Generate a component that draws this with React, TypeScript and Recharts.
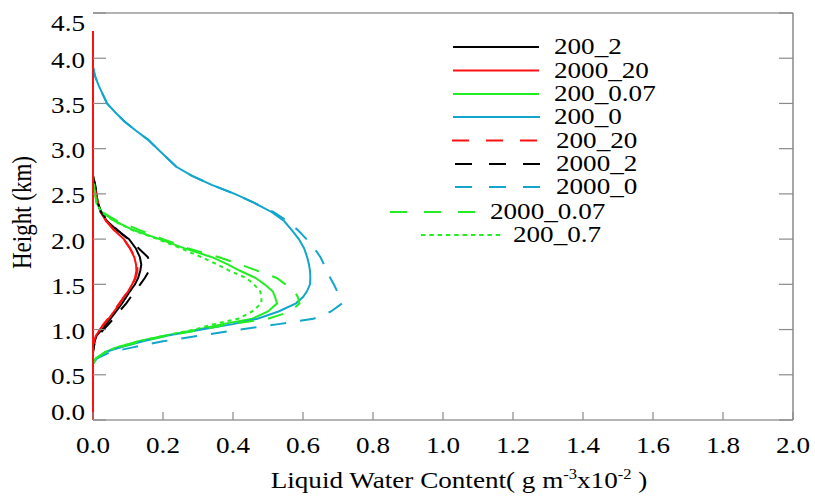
import { LineChart, Line, XAxis, YAxis, Legend } from "recharts"

const SERIF = "'Liberation Serif', 'Times New Roman', serif"
const STRETCH = 1.18

// model levels (km)
const heights = [
  0, 0.5, 0.62, 0.68, 0.75, 0.8, 0.87, 0.93, 1.0, 1.06, 1.12, 1.2, 1.29, 1.36, 1.42, 1.5, 1.57, 1.65, 1.72, 1.8, 1.9,
  2.0, 2.1, 2.2, 2.3, 2.4, 2.5, 2.6, 2.7, 2.8, 2.9, 3.0, 3.1, 3.2, 3.3, 3.4, 3.5, 3.6, 3.7, 3.8, 3.9, 4.0, 4.3,
]

// liquid water content (g m-3 x10-2), one value per level
const lwc200_2 = [
  0, 0, 0, 0, 0, 0.002, 0.005, 0.01, 0.025, 0.038, 0.05, 0.066, 0.083, 0.095, 0.105, 0.12, 0.129, 0.135, 0.138, 0.134,
  0.122, 0.103, 0.068, 0.04, 0.022, 0.014, 0.01, 0.006, 0, 0, 0, 0, 0, 0, 0, 0, 0, 0, 0, 0, 0, 0, 0,
]
const lwc2000_20 = [
  0, 0, 0, 0, 0, 0, 0.003, 0.008, 0.02, 0.032, 0.045, 0.06, 0.077, 0.088, 0.1, 0.112, 0.12, 0.124, 0.123, 0.118,
  0.105, 0.088, 0.06, 0.037, 0.022, 0.014, 0.008, 0.004, 0, 0, 0, 0, 0, 0, 0, 0, 0, 0, 0, 0, 0, 0, 0,
]
const lwc200_007 = [
  0, 0, 0, 0.008, 0.035, 0.065, 0.13, 0.2, 0.3, 0.37, 0.455, 0.5, 0.526, 0.52, 0.514, 0.49, 0.465, 0.42, 0.385, 0.34,
  0.26, 0.19, 0.115, 0.062, 0.025, 0.01, 0.006, 0.003, 0, 0, 0, 0, 0, 0, 0, 0, 0, 0, 0, 0, 0, 0, 0,
]
const lwc200_0 = [
  0, 0, 0, 0.01, 0.035, 0.077, 0.143, 0.21, 0.31, 0.4, 0.47, 0.53, 0.58, 0.6, 0.611, 0.62, 0.621, 0.62, 0.617, 0.612,
  0.603, 0.588, 0.568, 0.546, 0.51, 0.461, 0.405, 0.339, 0.283, 0.238, 0.211, 0.184, 0.157, 0.122, 0.09, 0.064, 0.04,
  0.028, 0.016, 0.006, 0, 0, 0,
]
const lwc200_20 = [
  0, 0, 0, 0, 0, 0, 0.003, 0.008, 0.02, 0.03, 0.043, 0.058, 0.075, 0.088, 0.1, 0.113, 0.122, 0.127, 0.126, 0.12,
  0.106, 0.088, 0.06, 0.038, 0.022, 0.014, 0.008, 0.004, 0, 0, 0, 0, 0, 0, 0, 0, 0, 0, 0, 0, 0, 0, 0,
]
const lwc2000_2 = [
  0, 0, 0, 0, 0, 0.002, 0.006, 0.015, 0.03, 0.045, 0.058, 0.075, 0.095, 0.108, 0.12, 0.135, 0.148, 0.16, 0.162, 0.157,
  0.13, 0.1, 0.07, 0.042, 0.023, 0.014, 0.01, 0.006, 0, 0, 0, 0, 0, 0, 0, 0, 0, 0, 0, 0, 0, 0, 0,
]
const lwc2000_0 = [
  0, 0, 0, 0.01, 0.05, 0.11, 0.2, 0.3, 0.42, 0.53, 0.63, 0.68, 0.712, 0.706, 0.698, 0.688, 0.678, 0.668, 0.66, 0.65,
  0.632, 0.61, 0.585, 0.555, 0.515, 0.461, 0.405, 0.339, 0.283, 0.238, 0.211, 0.184, 0.157, 0.122, 0.09, 0.064, 0.04,
  0.028, 0.016, 0.006, 0, 0, 0,
]
const lwc2000_007 = [
  0, 0, 0, 0.008, 0.035, 0.07, 0.14, 0.21, 0.31, 0.39, 0.5, 0.565, 0.59, 0.585, 0.576, 0.55, 0.525, 0.47, 0.42, 0.36,
  0.27, 0.2, 0.133, 0.07, 0.025, 0.01, 0.006, 0.003, 0, 0, 0, 0, 0, 0, 0, 0, 0, 0, 0, 0, 0, 0, 0,
]
const lwc200_07 = [
  0, 0, 0, 0.008, 0.035, 0.065, 0.13, 0.2, 0.29, 0.345, 0.415, 0.455, 0.481, 0.481, 0.478, 0.46, 0.438, 0.39, 0.355,
  0.31, 0.25, 0.185, 0.112, 0.06, 0.024, 0.01, 0.006, 0.003, 0, 0, 0, 0, 0, 0, 0, 0, 0, 0, 0, 0, 0, 0, 0,
]

// the solid red trace along the left edge
const surfaceH = [0, 4.3]
const surfaceV = [0, 0]

const xTicks = [0, 0.2, 0.4, 0.6, 0.8, 1.0, 1.2, 1.4, 1.6, 1.8, 2.0]
const yTicks = [0, 0.5, 1.0, 1.5, 2.0, 2.5, 3.0, 3.5, 4.0, 4.5]

const BLACK = "#000000"
const RED = "#ff1010"
const GREEN = "#22ee22"
const BLUE = "#12a6cc"
const DASH = "16 14"
const DOT = "4 4"

const series = [
  { key: "200_2", values: lwc200_2, color: BLACK, dash: undefined, legendDash: undefined },
  { key: "2000_20", values: lwc2000_20, color: RED, dash: undefined, legendDash: undefined },
  { key: "200_0.07", values: lwc200_007, color: GREEN, dash: undefined, legendDash: undefined },
  { key: "200_0", values: lwc200_0, color: BLUE, dash: undefined, legendDash: undefined },
  { key: "200_20", values: lwc200_20, color: RED, dash: DASH, legendDash: "17 17" },
  { key: "2000_2", values: lwc2000_2, color: BLACK, dash: DASH, legendDash: "17 17" },
  { key: "2000_0", values: lwc2000_0, color: BLUE, dash: DASH, legendDash: "17 17" },
  { key: "2000_0.07", values: lwc2000_007, color: GREEN, dash: DASH, legendDash: "17 17" },
  { key: "200_0.7", values: lwc200_07, color: GREEN, dash: DOT, legendDash: "4.5 3.8" },
]

// where each legend row sits inside the plot
const legendLayout = [
  { y: 47, x1: 453, x2: 539, tx: 554 },
  { y: 70.5, x1: 453, x2: 539, tx: 554 },
  { y: 94, x1: 453, x2: 539, tx: 554 },
  { y: 117, x1: 453, x2: 540, tx: 554 },
  { y: 140.5, x1: 452, x2: 538, tx: 556 },
  { y: 164, x1: 455, x2: 542, tx: 556 },
  { y: 187, x1: 455, x2: 542, tx: 556 },
  { y: 212, x1: 390, x2: 477, tx: 490 },
  { y: 235, x1: 421, x2: 504, tx: 513 },
]

const rows = heights.map((h, i) => {
  const row: Record<string, number> = { h }
  series.forEach((s) => {
    row[s.key] = s.values[i]
  })
  return row
})
const surfaceRows = surfaceH.map((h, i) => ({ h, v: surfaceV[i] }))

const AXIS = "#8a8a8a"
const textStyle = { fontFamily: SERIF }

function Stretched({ x, y, anchor, size = 23, children }: any) {
  return (
    <g transform={`translate(${x},${y}) scale(${STRETCH},1)`}>
      <text textAnchor={anchor} style={textStyle} fontSize={size} fill="#000">
        {children}
      </text>
    </g>
  )
}

function BottomTick({ x, y, payload }: any) {
  return (
    <g>
      <line x1={x} y1={y} x2={x} y2={y - 8} stroke={AXIS} strokeWidth={1.2} />
      <Stretched x={x} y={y + 33} anchor="middle">
        {payload.value.toFixed(1)}
      </Stretched>
    </g>
  )
}

function TopTick({ x, y }: any) {
  return <line x1={x} y1={y} x2={x} y2={y + 8} stroke={AXIS} strokeWidth={1.2} />
}

function LeftTick({ x, y, payload }: any) {
  // end labels are pulled inside the axis range
  const shift = payload.value === 0 ? -8 : payload.value === 4.5 ? 9.5 : 1.5
  return (
    <g>
      <line x1={x} y1={y} x2={x + 13} y2={y} stroke={AXIS} strokeWidth={1.2} />
      <Stretched x={x - 8} y={y + shift + 8} anchor="end">
        {payload.value.toFixed(1)}
      </Stretched>
    </g>
  )
}

function RightTick({ x, y }: any) {
  return <line x1={x} y1={y} x2={x - 14} y2={y} stroke={AXIS} strokeWidth={1.2} />
}

function XTitle({ viewBox }: any) {
  const cx = viewBox.x + viewBox.width / 2 + 16
  const cy = viewBox.y + 68
  return (
    <g transform={`translate(${cx},${cy}) scale(${STRETCH},1)`}>
      <text textAnchor="middle" style={textStyle} fontSize={23} fill="#000">
        Liquid Water Content( g m
        <tspan dy={-9} fontSize={14}>
          -3
        </tspan>
        <tspan dy={9}>x10</tspan>
        <tspan dy={-9} fontSize={14}>
          -2
        </tspan>
        <tspan dy={9}> )</tspan>
      </text>
    </g>
  )
}

function YTitle({ viewBox }: any) {
  const cx = viewBox.x - 71
  const cy = viewBox.y + viewBox.height / 2 - 4
  return (
    <g transform={`translate(${cx},${cy}) scale(${STRETCH},1) rotate(-90)`}>
      <text textAnchor="middle" dy="0.35em" style={textStyle} fontSize={23} fill="#000">
        Height (km)
      </text>
    </g>
  )
}

function LegendBox() {
  return (
    <svg width={815} height={260}>
      {series.map((s, i) => {
        const L = legendLayout[i]
        return (
          <g key={s.key}>
            <line x1={L.x1} x2={L.x2} y1={L.y} y2={L.y} stroke={s.color} strokeWidth={2} strokeDasharray={s.legendDash} />
            <Stretched x={L.tx} y={L.y + 7} anchor="start">
              {s.key}
            </Stretched>
          </g>
        )
      })}
    </svg>
  )
}

export default function App() {
  return (
    <div style={{ position: "absolute", left: 0, top: 0, background: "#fff" }}>
      <LineChart
        layout="vertical"
        width={815}
        height={502}
        data={rows}
        margin={{ top: 12, right: 21, bottom: 81, left: 92 }}
      >
        <XAxis
          type="number"
          domain={[0, 2]}
          ticks={xTicks}
          interval={0}
          height={1}
          tickSize={0}
          tickMargin={0}
          tickLine={false}
          tick={(p: any) => <BottomTick {...p} />}
          axisLine={{ stroke: "#b4b4b4", strokeWidth: 2 }}
          label={{ content: (p: any) => <XTitle {...p} /> }}
        />
        <XAxis
          xAxisId="top"
          orientation="top"
          type="number"
          domain={[0, 2]}
          ticks={xTicks}
          interval={0}
          height={1}
          tickSize={0}
          tickMargin={0}
          tickLine={false}
          tick={(p: any) => <TopTick {...p} />}
          axisLine={{ stroke: "#b4b4b4", strokeWidth: 2 }}
        />
        <YAxis
          type="number"
          dataKey="h"
          reversed
          domain={[0, 4.5]}
          ticks={yTicks}
          interval={0}
          width={1}
          tickSize={0}
          tickMargin={0}
          tickLine={false}
          tick={(p: any) => <LeftTick {...p} />}
          axisLine={false}
          label={{ content: (p: any) => <YTitle {...p} /> }}
        />
        <YAxis
          yAxisId="right"
          orientation="right"
          type="number"
          dataKey="h"
          reversed
          domain={[0, 4.5]}
          ticks={yTicks}
          interval={0}
          width={1}
          tickSize={0}
          tickMargin={0}
          tickLine={false}
          tick={(p: any) => <RightTick {...p} />}
          axisLine={{ stroke: AXIS, strokeWidth: 1.5 }}
        />
        <Legend
          layout="horizontal"
          verticalAlign="middle"
          align="center"
          wrapperStyle={{ left: 0, top: 0, width: 815, height: 260 }}
          content={() => <LegendBox />}
        />
        {series.map((s) => (
          <Line
            key={s.key}
            type="linear"
            dataKey={s.key}
            stroke={s.color}
            strokeWidth={2}
            strokeDasharray={s.dash}
            dot={false}
            activeDot={false}
            isAnimationActive={false}
          />
        ))}
        <Line
          data={surfaceRows}
          type="linear"
          dataKey="v"
          stroke={RED}
          strokeWidth={2}
          dot={false}
          activeDot={false}
          legendType="none"
          isAnimationActive={false}
        />
      </LineChart>
    </div>
  )
}
